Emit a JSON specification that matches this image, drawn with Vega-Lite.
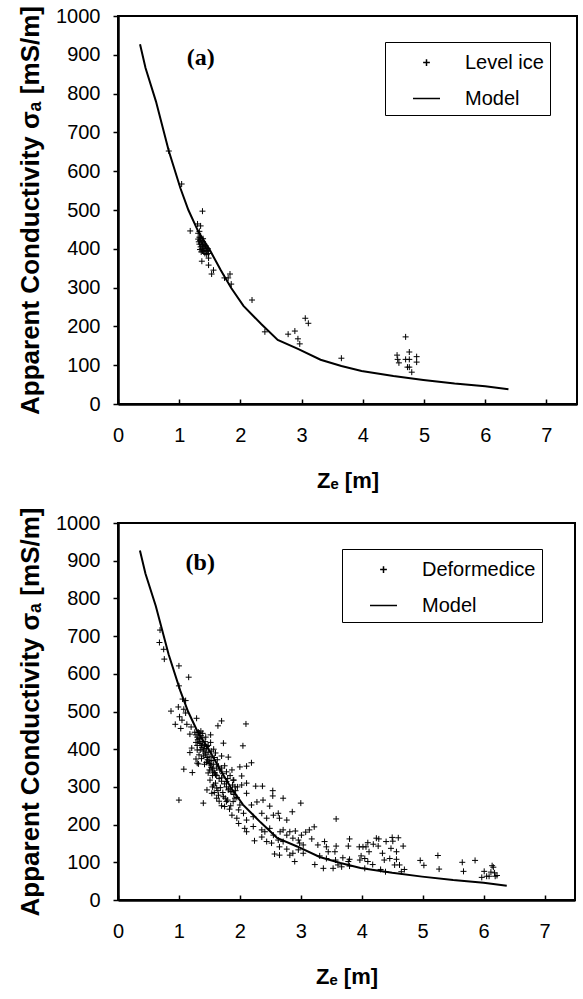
{
  "$schema": "https://vega.github.io/schema/vega-lite/v6.json",
  "background": "white",
  "padding": {"left": 16, "top": 0, "right": 3, "bottom": 3},
  "spacing": 10,
  "resolve": {"scale": {"shape": "independent"}, "legend": {"shape": "independent"}},
  "config": {
    "view": {"stroke": "black", "strokeWidth": 2},
    "font": "Liberation Sans",
    "axis": {"grid": false, "domainColor": "black", "domainWidth": 2.5, "tickColor": "black", "tickWidth": 1.5, "labelColor": "black", "labelFontSize": 20, "labelFont": "Liberation Sans", "titleColor": "black", "titleFont": "Liberation Sans", "titleFontWeight": "bold", "labelFlush": false, "labelOverlap": false, "format": "d"},
    "axisX": {"tickSize": -5, "labelPadding": 26, "titlePadding": 25, "titleFontSize": 22},
    "axisY": {"tickSize": 5, "labelPadding": 13, "titlePadding": 12, "titleFontSize": 26},
    "legend": {"orient": "none", "strokeColor": "black", "fillColor": "white", "padding": 6, "labelFontSize": 20, "labelFont": "Liberation Sans", "labelColor": "black", "symbolSize": 729, "symbolStrokeColor": "black", "symbolStrokeWidth": 1.5, "rowPadding": 11, "labelOffset": 24, "symbolOffset": 21}
  },
  "datasets": {
    "model": [
      {"z":0.36,"s":927},{"z":0.45,"s":866},{"z":0.62,"s":780},{"z":0.83,"s":652},{"z":1.02,"s":556},{"z":1.15,"s":500},{"z":1.31,"s":445},{"z":1.51,"s":394},{"z":1.68,"s":345},{"z":1.85,"s":299},{"z":2.05,"s":253},{"z":2.34,"s":206},{"z":2.61,"s":165},{"z":2.94,"s":142},{"z":3.31,"s":114},{"z":3.65,"s":98},{"z":3.98,"s":85},{"z":4.5,"s":72},{"z":4.99,"s":62},{"z":5.5,"s":53},{"z":6.0,"s":46},{"z":6.38,"s":38}
    ],
    "level": [
      {"z":0.83,"s":652},{"z":1.04,"s":567},{"z":1.38,"s":497},{"z":1.30,"s":464},{"z":1.35,"s":459},{"z":1.18,"s":446},
      {"z":1.31,"s":425},{"z":1.32,"s":418},{"z":1.33,"s":430},{"z":1.33,"s":412},{"z":1.34,"s":422},{"z":1.35,"s":405},{"z":1.35,"s":428},{"z":1.36,"s":415},{"z":1.37,"s":400},{"z":1.37,"s":420},{"z":1.38,"s":410},{"z":1.38,"s":395},{"z":1.39,"s":418},{"z":1.40,"s":405},{"z":1.40,"s":392},{"z":1.41,"s":412},{"z":1.42,"s":400},{"z":1.42,"s":388},{"z":1.43,"s":408},{"z":1.44,"s":396},{"z":1.45,"s":402},{"z":1.45,"s":385},{"z":1.46,"s":394},{"z":1.47,"s":400},{"z":1.48,"s":388},{"z":1.34,"s":398},{"z":1.36,"s":392},{"z":1.39,"s":426},{"z":1.31,"s":440},{"z":1.33,"s":445},
      {"z":1.37,"s":368},{"z":1.48,"s":376},{"z":1.48,"s":358},{"z":1.56,"s":345},{"z":1.53,"s":335},{"z":1.83,"s":335},{"z":1.80,"s":325},{"z":1.85,"s":309},{"z":1.74,"s":325},{"z":2.19,"s":268},{"z":2.40,"s":186},{"z":2.78,"s":180},{"z":2.89,"s":188},{"z":2.94,"s":168},{"z":2.97,"s":155},{"z":3.06,"s":221},{"z":3.11,"s":208},{"z":3.65,"s":118},
      {"z":4.70,"s":173},{"z":4.56,"s":126},{"z":4.57,"s":115},{"z":4.59,"s":106},{"z":4.70,"s":115},{"z":4.76,"s":115},{"z":4.76,"s":134},{"z":4.73,"s":95},{"z":4.76,"s":95},{"z":4.80,"s":82},{"z":4.88,"s":122},{"z":4.88,"s":108}
    ],
    "deformed": [
      {"z":0.69,"s":716},{"z":0.68,"s":683},{"z":0.75,"s":665},{"z":0.76,"s":639},{"z":1.0,"s":621},{"z":1.16,"s":591},{"z":1.0,"s":568},{"z":1.06,"s":533},{"z":1.11,"s":529},{"z":0.87,"s":501},{"z":0.99,"s":512},{"z":1.08,"s":506},{"z":1.11,"s":496},{"z":1.01,"s":486},{"z":1.05,"s":477},{"z":1.29,"s":482},{"z":0.94,"s":466},{"z":1.13,"s":466},{"z":1.2,"s":459},{"z":1.03,"s":455},{"z":1.64,"s":462},{"z":1.7,"s":475},{"z":2.1,"s":467},{"z":1.18,"s":440},{"z":1.34,"s":443},{"z":1.73,"s":416},{"z":2.05,"s":409},{"z":1.52,"s":438},{"z":1.46,"s":407},{"z":1.21,"s":403},{"z":1.18,"s":391},{"z":1.70,"s":382},{"z":1.81,"s":379},{"z":1.28,"s":374},{"z":1.32,"s":361},{"z":1.75,"s":356},{"z":2.0,"s":353},{"z":2.11,"s":355},{"z":2.19,"s":364},{"z":1.08,"s":347},
      {"z":1.26,"s":445},{"z":1.28,"s":438},{"z":1.3,"s":432},{"z":1.31,"s":425},{"z":1.33,"s":428},{"z":1.34,"s":420},{"z":1.35,"s":415},{"z":1.36,"s":436},{"z":1.37,"s":410},{"z":1.38,"s":405},{"z":1.39,"s":420},{"z":1.4,"s":400},{"z":1.41,"s":395},{"z":1.42,"s":412},{"z":1.43,"s":390},{"z":1.44,"s":385},{"z":1.45,"s":402},{"z":1.46,"s":378},{"z":1.47,"s":372},{"z":1.48,"s":392},{"z":1.49,"s":368},{"z":1.5,"s":362},{"z":1.51,"s":380},{"z":1.52,"s":358},{"z":1.53,"s":352},{"z":1.54,"s":370},{"z":1.55,"s":348},{"z":1.56,"s":342},{"z":1.57,"s":360},{"z":1.58,"s":338},{"z":1.6,"s":332},{"z":1.62,"s":350},{"z":1.3,"s":410},{"z":1.32,"s":445},{"z":1.35,"s":398},{"z":1.38,"s":430},{"z":1.4,"s":382},{"z":1.43,"s":420},{"z":1.45,"s":365},{"z":1.48,"s":410},{"z":1.5,"s":345},{"z":1.53,"s":395},{"z":1.55,"s":330},{"z":1.58,"s":378},{"z":1.33,"s":385},{"z":1.37,"s":375},{"z":1.42,"s":360},{"z":1.28,"s":418},{"z":1.3,"s":398},{"z":1.36,"s":448},{"z":1.39,"s":442},{"z":1.44,"s":432},{"z":1.52,"s":418},{"z":1.57,"s":400},{"z":1.6,"s":390},{"z":1.63,"s":372},{"z":1.65,"s":355},
      {"z":1.62,"s":330},{"z":1.66,"s":322},{"z":1.7,"s":315},{"z":1.72,"s":335},{"z":1.75,"s":308},{"z":1.78,"s":300},{"z":1.8,"s":322},{"z":1.82,"s":295},{"z":1.85,"s":288},{"z":1.88,"s":305},{"z":1.9,"s":280},{"z":1.93,"s":290},{"z":1.95,"s":272},{"z":1.68,"s":298},{"z":1.72,"s":285},{"z":1.76,"s":270},{"z":1.6,"s":310},{"z":1.64,"s":290},{"z":1.7,"s":350},{"z":1.78,"s":340},{"z":1.84,"s":330},{"z":1.9,"s":318},{"z":1.96,"s":300},{"z":1.55,"s":300},{"z":1.58,"s":285},{"z":1.66,"s":262},{"z":1.7,"s":250},{"z":1.62,"s":270},{"z":1.8,"s":265},{"z":1.85,"s":250},
      {"z":1.22,"s":338},{"z":1.3,"s":363},{"z":1.0,"s":265},{"z":1.4,"s":257},{"z":1.87,"s":345},{"z":2.03,"s":329},{"z":2.11,"s":310},{"z":2.03,"s":305},{"z":2.26,"s":302},{"z":2.37,"s":302},{"z":2.54,"s":290},{"z":2.54,"s":276},{"z":2.71,"s":270},{"z":3.0,"s":257},{"z":2.86,"s":234},{"z":2.28,"s":260},{"z":2.38,"s":265},{"z":2.49,"s":249},{"z":2.19,"s":252},{"z":2.11,"s":283},{"z":1.54,"s":283},{"z":1.65,"s":278},{"z":1.75,"s":248},{"z":1.83,"s":241},{"z":1.92,"s":270},{"z":2.0,"s":252},{"z":2.06,"s":230},{"z":1.95,"s":217},{"z":1.98,"s":203},{"z":2.11,"s":212},{"z":2.22,"s":221},{"z":2.36,"s":230},{"z":2.44,"s":217},{"z":2.55,"s":225},{"z":2.63,"s":230},{"z":2.65,"s":217},{"z":2.77,"s":212},{"z":2.08,"s":190},{"z":2.11,"s":181},{"z":2.22,"s":195},{"z":2.36,"s":186},{"z":2.41,"s":181},{"z":2.49,"s":190},{"z":2.55,"s":172},{"z":2.66,"s":181},{"z":2.71,"s":186},{"z":2.77,"s":172},{"z":2.82,"s":181},{"z":2.91,"s":183},{"z":2.24,"s":157},{"z":2.36,"s":167},{"z":2.63,"s":159},{"z":2.71,"s":155},{"z":2.87,"s":164},{"z":2.96,"s":159},{"z":3.01,"s":172},{"z":2.65,"s":141},{"z":2.57,"s":122},{"z":2.65,"s":119},{"z":2.77,"s":135},{"z":2.82,"s":119},{"z":2.90,"s":102},{"z":3.04,"s":124},{"z":2.87,"s":124},{"z":2.52,"s":151},{"z":2.44,"s":155},
      {"z":1.51,"s":318},{"z":1.57,"s":305},{"z":1.62,"s":297},{"z":1.70,"s":324},{"z":1.78,"s":314},{"z":1.81,"s":292},{"z":1.87,"s":287},{"z":1.92,"s":300},{"z":1.89,"s":318},{"z":1.48,"s":337},{"z":1.59,"s":337},{"z":1.67,"s":345},{"z":1.46,"s":292},{"z":1.73,"s":274},{"z":1.78,"s":261},{"z":1.89,"s":261},{"z":1.98,"s":239},{"z":1.87,"s":225},
      {"z":3.58,"s":215},{"z":3.22,"s":194},{"z":3.14,"s":186},{"z":3.08,"s":180},{"z":3.8,"s":162},{"z":4.24,"s":164},{"z":4.28,"s":162},{"z":4.4,"s":155},{"z":4.51,"s":156},{"z":4.68,"s":143},{"z":3.96,"s":141},{"z":4.02,"s":141},{"z":4.07,"s":141},{"z":4.1,"s":152},{"z":4.19,"s":148},{"z":4.27,"s":143},{"z":4.34,"s":124},{"z":4.48,"s":137},{"z":4.57,"s":128},{"z":4.12,"s":128},{"z":3.99,"s":117},{"z":4.05,"s":110},{"z":3.97,"s":106},{"z":4.10,"s":102},{"z":4.18,"s":94},{"z":4.05,"s":84},{"z":4.37,"s":106},{"z":4.46,"s":110},{"z":4.57,"s":108},{"z":4.62,"s":93},{"z":4.54,"s":93},{"z":4.70,"s":81},{"z":4.31,"s":81},{"z":4.39,"s":75},{"z":4.65,"s":75},{"z":4.5,"s":166},{"z":4.6,"s":165},
      {"z":4.96,"s":105},{"z":5.02,"s":92},{"z":5.25,"s":118},{"z":5.27,"s":82},
      {"z":2.98,"s":151},{"z":3.04,"s":146},{"z":2.96,"s":133},{"z":3.18,"s":162},{"z":3.28,"s":146},{"z":3.39,"s":155},{"z":3.42,"s":141},{"z":3.45,"s":128},{"z":3.58,"s":143},{"z":3.56,"s":128},{"z":3.78,"s":143},{"z":3.31,"s":117},{"z":3.42,"s":110},{"z":3.57,"s":106},{"z":3.69,"s":112},{"z":3.78,"s":102},{"z":3.8,"s":108},{"z":3.23,"s":94},{"z":3.37,"s":84},{"z":3.53,"s":84},{"z":3.61,"s":93},{"z":3.67,"s":88},{"z":3.8,"s":90},
      {"z":5.65,"s":100},{"z":5.67,"s":76},{"z":5.86,"s":105},{"z":6.01,"s":76},{"z":5.97,"s":60},{"z":6.05,"s":63},{"z":6.14,"s":91},{"z":6.16,"s":87},{"z":6.12,"s":74},{"z":6.18,"s":72},{"z":6.19,"s":63},{"z":6.22,"s":65},{"z":6.09,"s":63}
    ]
  },
  "vconcat": [
    {
      "width": 459,
      "height": 388,
      "encoding": {
        "x": {"field": "z", "type": "quantitative", "scale": {"domain": [0, 7.5], "nice": false}, "axis": {"title": "Zₑ [m]", "values": [0, 1, 2, 3, 4, 5, 6, 7]}},
        "y": {"field": "s", "type": "quantitative", "scale": {"domain": [0, 1000], "nice": false}, "axis": {"title": "Apparent Conductivity σₐ  [mS/m]", "values": [0, 100, 200, 300, 400, 500, 600, 700, 800, 900, 1000]}}
      },
      "layer": [
        {
          "data": {"name": "level"},
          "mark": {"type": "point", "filled": false, "color": "black", "strokeWidth": 1, "size": 576, "opacity": 1},
          "encoding": {
            "shape": {
              "datum": "Level ice",
              "type": "nominal",
              "scale": {"domain": ["Level ice", "Model"], "range": ["M-0.25,0H0.25M0,-0.25V0.25", "stroke"]},
              "legend": {"title": null, "legendX": 267, "legendY": 26}
            }
          }
        },
        {
          "data": {"name": "model"},
          "mark": {"type": "line", "color": "black", "strokeWidth": 2},
          "encoding": {}
        },
        {
          "data": {"values": [{"z": 1.35, "s": 893, "label": "(a)"}]},
          "mark": {"type": "text", "font": "Liberation Serif", "fontWeight": "bold", "fontSize": 24, "color": "black"},
          "encoding": {"text": {"field": "label"}}
        }
      ]
    },
    {
      "width": 457,
      "height": 377,
      "encoding": {
        "x": {"field": "z", "type": "quantitative", "scale": {"domain": [0, 7.5], "nice": false}, "axis": {"title": "Zₑ [m]", "values": [0, 1, 2, 3, 4, 5, 6, 7]}},
        "y": {"field": "s", "type": "quantitative", "scale": {"domain": [0, 1000], "nice": false}, "axis": {"title": "Apparent Conductivity σₐ  [mS/m]", "values": [0, 100, 200, 300, 400, 500, 600, 700, 800, 900, 1000]}}
      },
      "layer": [
        {
          "data": {"name": "deformed"},
          "mark": {"type": "point", "filled": false, "color": "black", "strokeWidth": 1, "size": 576, "opacity": 1},
          "encoding": {
            "shape": {
              "datum": "Deformedice",
              "type": "nominal",
              "scale": {"domain": ["Deformedice", "Model"], "range": ["M-0.25,0H0.25M0,-0.25V0.25", "stroke"]},
              "legend": {"title": null, "legendX": 224, "legendY": 26}
            }
          }
        },
        {
          "data": {"name": "model"},
          "mark": {"type": "line", "color": "black", "strokeWidth": 2},
          "encoding": {}
        },
        {
          "data": {"values": [{"z": 1.35, "s": 893, "label": "(b)"}]},
          "mark": {"type": "text", "font": "Liberation Serif", "fontWeight": "bold", "fontSize": 24, "color": "black"},
          "encoding": {"text": {"field": "label"}}
        }
      ]
    }
  ]
}
